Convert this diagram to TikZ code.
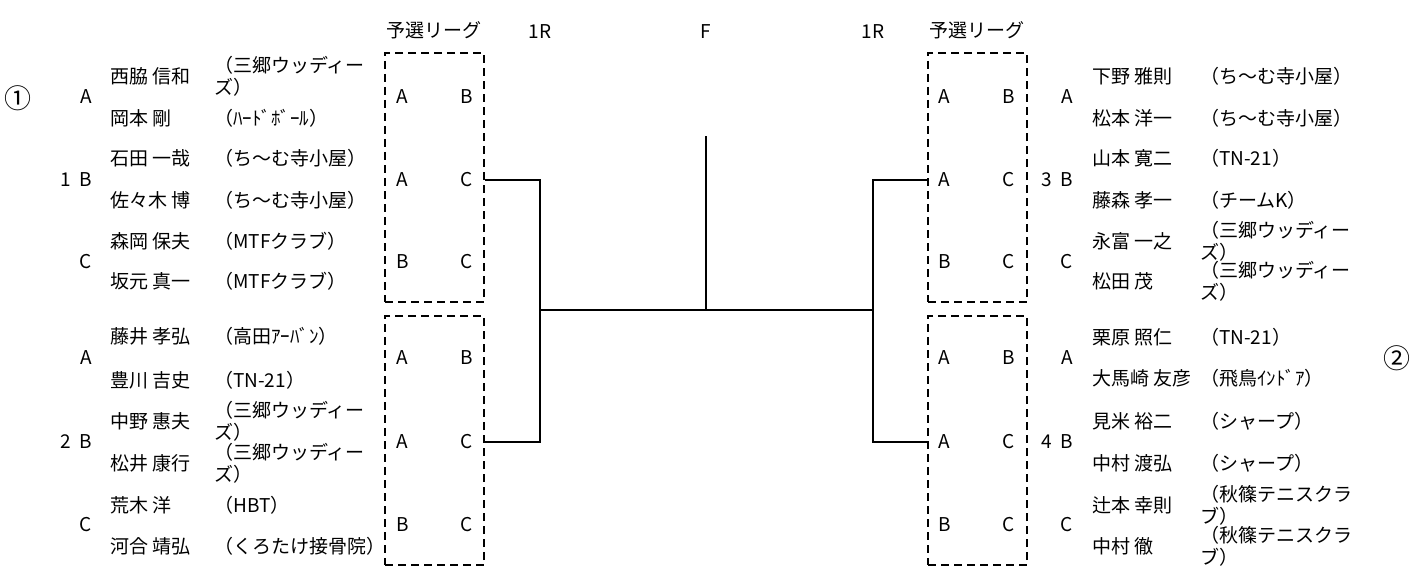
\documentclass[tikz,border=0pt]{standalone}
\usepackage{fontspec}
\setmainfont{Noto Sans CJK JP}
\begin{document}
\begin{tikzpicture}[x=1pt,y=-1pt,
  every node/.style={inner sep=0pt,font=\fontsize{19}{22}\selectfont},
  txt/.style={anchor=west,align=left},
  grp/.style={anchor=east},
  lbox/.style={draw,dashed,dash pattern=on 8pt off 5pt,line width=1.2pt,minimum width=99pt,minimum height=249pt},
  brk/.style={line width=1.5pt},
  head/.style={anchor=center},
  circ/.style={font=\fontsize{27}{27}\selectfont}]
\useasboundingbox (0,0) rectangle (1415,567);
% headings
\node[head] (h1) at (434,30) {予選リーグ};
\node[head] (h2) at (540,32) {1R};
\node[head] (h3) at (706,32) {F};
\node[head] (h4) at (873,32) {1R};
\node[head] (h5) at (977,30) {予選リーグ};
\node[circ] (m1) at (18,98) {①};
\node[circ] (m2) at (1397,358) {②};
% league boxes
\node[lbox] (b1) at (434.5,177.5) {};
\node[lbox] (b2) at (434.5,440.5) {};
\node[lbox] (b3) at (977.5,177.5) {};
\node[lbox] (b4) at (977.5,440.5) {};
% box labels left
\node[anchor=west] (la1) at (396,97) {A};  \node[anchor=east] (lb1) at (473,97) {B};
\node[anchor=west] (la2) at (396,180) {A}; \node[anchor=east] (lc2) at (473,180) {C};
\node[anchor=west] (la3) at (396,262) {B}; \node[anchor=east] (lb3) at (473,262) {C};
\node[anchor=west] (la4) at (396,358) {A}; \node[anchor=east] (lb4) at (473,358) {B};
\node[anchor=west] (la5) at (396,442) {A}; \node[anchor=east] (lc5) at (473,442) {C};
\node[anchor=west] (la6) at (396,525) {B}; \node[anchor=east] (lb6) at (473,525) {C};
% box labels right
\node[anchor=west] (ra1) at (938,97) {A};  \node[anchor=east] (rb1) at (1015,97) {B};
\node[anchor=west] (ra2) at (938,180) {A}; \node[anchor=east] (rc2) at (1015,180) {C};
\node[anchor=west] (ra3) at (938,262) {B}; \node[anchor=east] (rb3) at (1015,262) {C};
\node[anchor=west] (ra4) at (938,358) {A}; \node[anchor=east] (rb4) at (1015,358) {B};
\node[anchor=west] (ra5) at (938,442) {A}; \node[anchor=east] (rc5) at (1015,442) {C};
\node[anchor=west] (ra6) at (938,525) {B}; \node[anchor=east] (rb6) at (1015,525) {C};
% group letters
\node[grp] (lg1) at (92,97) {A};
\node[grp] (lg2) at (92,180) {1\hspace{8pt}B};
\node[grp] (lg3) at (92,262) {C};
\node[grp] (lg4) at (92,358) {A};
\node[grp] (lg5) at (92,442) {2\hspace{8pt}B};
\node[grp] (lg6) at (92,525) {C};
\node[grp] (rg1) at (1073,97) {A};
\node[grp] (rg2) at (1073,180) {3\hspace{8pt}B};
\node[grp] (rg3) at (1073,262) {C};
\node[grp] (rg4) at (1073,358) {A};
\node[grp] (rg5) at (1073,442) {4\hspace{8pt}B};
\node[grp] (rg6) at (1073,525) {C};
% left players
\node[txt] (ln1) at (110,76) {西脇 信和};   \node[txt] (lc1) at (214,76) {（三郷ウッディー\\ズ）};
\node[txt] (ln2) at (110,118) {岡本 剛};    \node[txt] (lcc2) at (214,118) {（ﾊｰﾄﾞﾎﾞｰﾙ）};
\node[txt] (ln3) at (110,158) {石田 一哉};   \node[txt] (lc3) at (214,158) {（ち～む寺小屋）};
\node[txt] (ln4) at (110,200) {佐々木 博};   \node[txt] (lc4) at (214,200) {（ち～む寺小屋）};
\node[txt] (ln5) at (110,241) {森岡 保夫};   \node[txt] (lcc5) at (214,241) {（MTFクラブ）};
\node[txt] (ln6) at (110,281) {坂元 真一};   \node[txt] (lc6) at (214,281) {（MTFクラブ）};
\node[txt] (ln7) at (110,336) {藤井 孝弘};   \node[txt] (lc7) at (214,336) {（高田ｱｰﾊﾞﾝ）};
\node[txt] (ln8) at (110,380) {豊川 吉史};   \node[txt] (lc8) at (214,380) {（TN-21）};
\node[txt] (ln9) at (110,421) {中野 惠夫};   \node[txt] (lc9) at (214,421) {（三郷ウッディー\\ズ）};
\node[txt] (ln10) at (110,463) {松井 康行};  \node[txt] (lc10) at (214,463) {（三郷ウッディー\\ズ）};
\node[txt] (ln11) at (110,505) {荒木 洋};    \node[txt] (lc11) at (214,505) {（HBT）};
\node[txt] (ln12) at (110,546) {河合 靖弘};  \node[txt] (lc12) at (214,546) {（くろたけ接骨院）};
% right players
\node[txt] (rn1) at (1092,76) {下野 雅則};   \node[txt] (rc1) at (1200,76) {（ち～む寺小屋）};
\node[txt] (rn2) at (1092,118) {松本 洋一};  \node[txt] (rcc2) at (1200,118) {（ち～む寺小屋）};
\node[txt] (rn3) at (1092,158) {山本 寛二};  \node[txt] (rc3) at (1200,158) {（TN-21）};
\node[txt] (rn4) at (1092,200) {藤森 孝一};  \node[txt] (rc4) at (1200,200) {（チームK）};
\node[txt] (rn5) at (1092,241) {永富 一之};  \node[txt] (rcc5) at (1200,241) {（三郷ウッディー\\ズ）};
\node[txt] (rn6) at (1092,281) {松田 茂};    \node[txt] (rc6) at (1200,281) {（三郷ウッディー\\ズ）};
\node[txt] (rn7) at (1092,337) {栗原 照仁};  \node[txt] (rc7) at (1200,337) {（TN-21）};
\node[txt] (rn8) at (1092,378) {大馬崎 友彦}; \node[txt] (rc8) at (1200,378) {（飛鳥ｲﾝﾄﾞｱ）};
\node[txt] (rn9) at (1092,421) {見米 裕二};  \node[txt] (rc9) at (1200,421) {（シャープ）};
\node[txt] (rn10) at (1092,463) {中村 渡弘}; \node[txt] (rc10) at (1200,463) {（シャープ）};
\node[txt] (rn11) at (1092,505) {辻本 幸則}; \node[txt] (rc11) at (1200,505) {（秋篠テニスクラ\\ブ）};
\node[txt] (rn12) at (1092,546) {中村 徹};   \node[txt] (rc12) at (1200,546) {（秋篠テニスクラ\\ブ）};
% bracket
\coordinate (jl) at (540,310);
\coordinate (jr) at (873,310);
\coordinate (fin) at (706,136);
\draw[brk] (b1.east |- lc2) -| (jl);
\draw[brk] (b2.east |- lc5) -| (jl);
\draw[brk] (b3.west |- rc2) -| (jr);
\draw[brk] (b4.west |- rc5) -| (jr);
\draw[brk] (jl) -- (jr);
\draw[brk] (fin) -- (fin |- jl);
\end{tikzpicture}
\end{document}
